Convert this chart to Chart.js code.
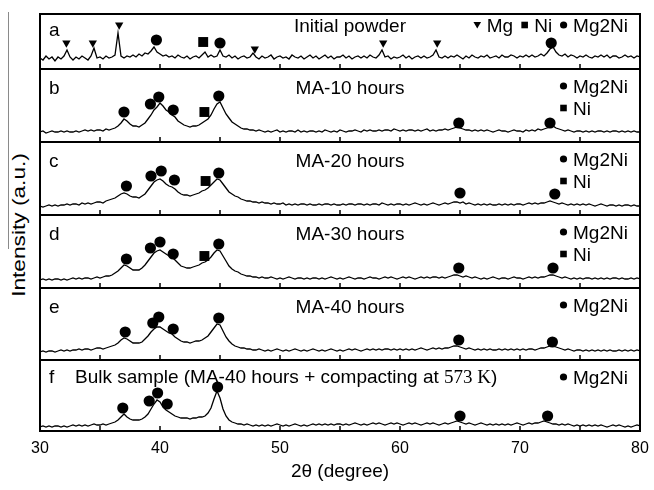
<!DOCTYPE html>
<html>
<head>
<meta charset="utf-8">
<script src="https://cdn.jsdelivr.net/npm/chart.js@4"></script>
<style>
body { margin: 0; background: #fff; }
#wrap { position: relative; width: 654px; height: 490px; overflow: hidden; background: #fff; }
.panel { position: absolute; left: 0; width: 654px; }
#ylab { position: absolute; left: 19px; top: 225px; transform: translate(-50%, -50%) rotate(-90deg) scaleX(1.26);
        font: 18px "Liberation Sans", Arial, sans-serif; white-space: nowrap; color: #000; }
#bar { position: absolute; left: 8px; top: 12px; width: 1px; height: 237px; background: #8a8a8a; }
</style>
</head>
<body>
<div id="wrap">
  <div id="bar"></div>
  <div id="ylab">Intensity (a.u.)</div>
  <div class="panel" style="top:13px;height:56px"><canvas id="pa"></canvas></div>
  <div class="panel" style="top:69px;height:73px"><canvas id="pb"></canvas></div>
  <div class="panel" style="top:142px;height:73px"><canvas id="pc"></canvas></div>
  <div class="panel" style="top:215px;height:73px"><canvas id="pd"></canvas></div>
  <div class="panel" style="top:288px;height:72px"><canvas id="pe"></canvas></div>
  <div class="panel" style="top:360px;height:130px"><canvas id="pf"></canvas></div>
</div>
<script>
// 2theta grid (degree), 0.25 step
const twoTheta = [
  30,30.25,30.5,30.75,31,31.25,31.5,31.75,32,32.25,32.5,32.75,33,33.25,33.5,33.75,34,34.25,34.5,34.75,
  35,35.25,35.5,35.75,36,36.25,36.5,36.75,37,37.25,37.5,37.75,38,38.25,38.5,38.75,39,39.25,39.5,39.75,
  40,40.25,40.5,40.75,41,41.25,41.5,41.75,42,42.25,42.5,42.75,43,43.25,43.5,43.75,44,44.25,44.5,44.75,
  45,45.25,45.5,45.75,46,46.25,46.5,46.75,47,47.25,47.5,47.75,48,48.25,48.5,48.75,49,49.25,49.5,49.75,
  50,50.25,50.5,50.75,51,51.25,51.5,51.75,52,52.25,52.5,52.75,53,53.25,53.5,53.75,54,54.25,54.5,54.75,
  55,55.25,55.5,55.75,56,56.25,56.5,56.75,57,57.25,57.5,57.75,58,58.25,58.5,58.75,59,59.25,59.5,59.75,
  60,60.25,60.5,60.75,61,61.25,61.5,61.75,62,62.25,62.5,62.75,63,63.25,63.5,63.75,64,64.25,64.5,64.75,
  65,65.25,65.5,65.75,66,66.25,66.5,66.75,67,67.25,67.5,67.75,68,68.25,68.5,68.75,69,69.25,69.5,69.75,
  70,70.25,70.5,70.75,71,71.25,71.5,71.75,72,72.25,72.5,72.75,73,73.25,73.5,73.75,74,74.25,74.5,74.75,
  75,75.25,75.5,75.75,76,76.25,76.5,76.75,77,77.25,77.5,77.75,78,78.25,78.5,78.75,79,79.25,79.5,79.75,
  80
];
const tickDegrees = [30, 35, 40, 45, 50, 55, 60, 65, 70, 75, 80];

// intensities (a.u.)
const initialPowder = [
  11,9,13,10, 12,8,12,10, 13,19,12,9, 12,10,13,11, 9,13,21,11,
  12,10,13,11, 12,14,36,13, 11,13,12,14, 12,15,13,16, 15,18,22,17,
  15,13,14,12, 13,11,14,12, 11,13,10,12, 13,11,14,17, 12,14,12,13,
  19,13,12,14, 11,13,10,12, 13,11,12,16, 12,10,13,11, 12,14,10,12,
  13,11,12,10, 14,12,11,13, 10,12,14,11, 13,10,12,14, 11,13,10,12,
  12,14,11,13, 10,12,13,11, 13,11,14,12, 11,14,19,12, 13,10,12,11,
  12,14,11,13, 10,12,13,11, 13,11,12,14, 19,12,11,13, 11,13,12,14,
  12,10,13,11, 14,12,11,13, 12,14,11,12, 13,11,14,12, 12,14,13,11,
  13,12,14,12, 14,12,13,15, 13,16,20,22, 17,14,13,15, 12,14,13,11,
  13,12,14,12, 11,13,12,14, 12,14,11,13, 13,11,12,14, 12,13,11,13,
  12
];
const ma10 = [
  10,11,9,10, 11,10,10,11, 10,11,10,10, 11,10,11,12, 11,12,11,12,
  12,11,13,12, 13,14,16,19, 23,21,18,16, 16,15,17,19, 23,27,32,35,
  39,36,32,30, 27,25,21,19, 17,16,15,16, 16,17,19,21, 23,27,33,38,
  40,34,28,24, 20,18,16,14, 13,13,12,12, 11,12,11,10, 11,10,11,12,
  10,11,10,11, 11,10,12,10, 11,10,11,11, 10,11,10,12, 11,10,11,10,
  12,11,10,11, 11,12,11,10, 12,11,12,11, 11,12,11,12, 12,11,13,12,
  11,12,11,12, 12,11,12,11, 12,13,11,12, 11,12,12,13, 12,13,14,15,
  14,13,12,12, 11,12,11,12, 11,12,11,10, 11,12,11,11, 10,11,12,11,
  11,10,12,11, 12,11,13,12, 13,14,15,16, 14,13,12,11, 12,11,10,11,
  11,10,11,10, 11,10,11,11, 10,11,10,11, 11,10,11,10, 11,10,11,10,
  10
];
const ma20 = [
  9,8,9,10, 9,10,9,10, 10,11,10,11, 11,10,12,11, 12,11,12,13,
  13,12,14,15, 16,17,19,21, 22,21,19,18, 18,17,19,21, 25,29,33,35,
  36,34,31,29, 28,26,23,21, 20,20,19,20, 21,22,24,25, 27,30,33,36,
  35,31,27,23, 21,19,18,16, 15,14,14,13, 13,12,13,12, 12,11,12,11,
  11,12,10,11, 10,11,10,11, 11,10,11,10, 10,11,10,11, 11,10,11,10,
  10,11,10,11, 11,10,11,11, 10,11,10,11, 11,10,12,11, 10,11,10,11,
  11,10,11,10, 11,12,11,10, 11,10,11,12, 11,10,11,12, 11,12,13,13,
  12,13,11,12, 11,10,11,10, 11,10,11,10, 10,11,10,11, 10,11,10,11,
  11,10,11,12, 11,12,11,12, 12,13,14,13, 12,11,12,11, 10,11,10,11,
  10,11,10,11, 10,9,10,11, 10,9,10,10, 9,10,9,10, 10,9,10,9,
  9
];
const ma30 = [
  8,9,8,9, 8,9,9,8, 9,8,9,10, 9,10,9,10, 10,9,10,11,
  10,11,12,12, 13,15,17,20, 23,22,20,18, 18,18,20,23, 27,31,35,37,
  38,36,34,32, 31,28,25,22, 21,20,20,21, 22,23,25,26, 28,31,35,38,
  37,32,27,22, 19,17,16,14, 13,12,12,11, 11,10,11,10, 10,11,10,9,
  10,9,10,11, 10,9,10,10, 9,10,9,10, 10,9,10,9, 10,11,10,9,
  10,9,10,11, 10,9,10,10, 9,10,11,10, 10,9,10,11, 10,11,10,9,
  10,11,10,11, 10,9,10,11, 10,11,10,11, 11,10,11,10, 11,12,13,13,
  12,11,12,11, 10,11,10,9, 10,9,10,11, 10,9,10,10, 9,10,11,10,
  10,9,10,11, 10,11,10,11, 11,12,13,13, 12,11,10,11, 10,9,10,9,
  10,9,10,10, 9,10,9,10, 9,10,9,10, 10,9,10,9, 9,10,9,10,
  9
];
const ma40 = [
  8,9,8,9, 9,8,9,10, 9,10,9,10, 10,11,10,11, 11,10,11,12,
  12,11,12,13, 14,15,17,20, 22,21,19,17, 17,17,18,21, 24,28,31,33,
  33,31,29,27, 26,23,21,19, 18,18,17,18, 19,19,20,22, 24,28,32,36,
  35,29,23,19, 16,14,13,12, 12,11,11,10, 10,11,10,9, 10,9,10,11,
  10,9,10,9, 10,11,10,9, 10,9,10,11, 10,9,10,9, 10,11,10,9,
  10,9,10,11, 10,11,10,9, 10,11,10,11, 10,11,10,11, 11,10,11,10,
  11,10,11,10, 11,10,11,12, 11,10,11,12, 11,12,11,12, 12,13,14,14,
  13,12,11,12, 11,10,11,10, 11,10,11,10, 10,11,10,11, 10,11,10,11,
  10,11,10,11, 11,10,11,12, 12,13,14,14, 13,12,11,10, 11,10,9,10,
  10,9,10,9, 10,9,10,9, 10,9,10,9, 9,10,9,10, 9,10,9,10,
  9
];
const bulk = [
  4,5,4,5, 4,5,5,4, 5,4,5,6, 5,6,5,6, 5,6,7,6,
  6,7,6,7, 8,9,11,14, 17,14,12,11, 11,11,12,14, 17,22,27,31,
  29,24,21,19, 17,15,14,13, 13,13,12,13, 13,14,14,15, 18,23,32,40,
  33,22,15,11, 9,8,7,7, 6,7,6,5, 6,5,6,5, 6,5,6,7,
  6,5,6,5, 6,7,6,5, 6,5,6,7, 6,7,6,7, 6,7,6,7,
  7,6,7,6, 7,8,7,6, 7,6,7,8, 7,8,7,6, 7,8,7,8,
  7,6,7,8, 7,8,7,6, 7,8,7,8, 7,6,7,8, 7,8,9,10,
  9,8,7,8, 7,6,7,8, 7,6,7,6, 7,6,7,6, 7,6,7,8,
  7,6,7,8, 7,8,8,9, 10,9,8,7, 7,6,7,6, 7,6,5,6,
  5,6,5,6, 5,6,5,6, 5,4,5,6, 5,6,5,4, 5,4,5,6,
  5
];

// peak markers: 2theta and marker height (a.u.)
const markA_Mg = [{x:32.2,y:26},{x:34.4,y:26},{x:36.6,y:44},{x:47.9,y:20},{x:58.6,y:26},{x:63.1,y:26}];
const markA_Ni = [{x:43.6,y:27}];
const markA_Mg2Ni = [{x:39.7,y:29},{x:45.0,y:26},{x:72.6,y:26}];
const markB_Mg2Ni = [{x:37.0,y:30},{x:39.2,y:38},{x:39.9,y:45},{x:41.1,y:32},{x:44.9,y:46},{x:64.9,y:19},{x:72.5,y:19}];
const markB_Ni = [{x:43.7,y:30}];
const markC_Mg2Ni = [{x:37.2,y:29},{x:39.25,y:39},{x:40.1,y:44},{x:41.2,y:35},{x:44.9,y:42},{x:65.0,y:22},{x:72.9,y:21}];
const markC_Ni = [{x:43.8,y:34}];
const markD_Mg2Ni = [{x:37.2,y:29},{x:39.2,y:40},{x:40.0,y:46},{x:41.1,y:34},{x:44.9,y:44},{x:64.9,y:20},{x:72.75,y:20}];
const markD_Ni = [{x:43.7,y:32}];
const markE_Mg2Ni = [{x:37.1,y:28},{x:39.4,y:37},{x:39.9,y:43},{x:41.1,y:31},{x:44.9,y:42},{x:64.9,y:20},{x:72.7,y:18}];
const markF_Mg2Ni = [{x:36.9,y:23},{x:39.1,y:30},{x:39.8,y:38},{x:40.6,y:27},{x:44.8,y:44},{x:65.0,y:15},{x:72.3,y:15}];

const panelRange = [55, 73, 73, 73, 72, 71];

Chart.defaults.font.family = '"Liberation Sans", Arial, sans-serif';
Chart.defaults.color = '#000';
const SANS = '"Liberation Sans", Arial, sans-serif';
const SERIF = '"Liberation Serif", "Times New Roman", serif';

function glyph(ctx, kind, cx, cy) {
    ctx.beginPath();
    if (kind === 'dot') {
        ctx.arc(cx, cy, 3.6, 0, Math.PI * 2);
    } else if (kind === 'sq') {
        ctx.rect(cx - 3.3, cy - 3.3, 6.6, 6.6);
    } else {
        ctx.moveTo(cx - 3.8, cy - 3);
        ctx.lineTo(cx + 3.8, cy - 3);
        ctx.lineTo(cx, cy + 3.5);
        ctx.closePath();
    }
    ctx.fill();
}

const panelDeco = {
    id: 'panelDeco',
    afterDatasetsDraw(chart, args, o) {
        const { ctx, chartArea: a, scales: { x } } = chart;
        ctx.save();
        ctx.strokeStyle = '#000';
        ctx.fillStyle = '#000';
        // inward ticks
        ctx.lineWidth = 1.5;
        ctx.beginPath();
        tickDegrees.forEach(v => {
            const px = x.getPixelForValue(v);
            ctx.moveTo(px, a.bottom);
            ctx.lineTo(px, a.bottom - 5);
        });
        ctx.stroke();
        // frame
        ctx.lineWidth = 2;
        ctx.strokeRect(a.left, a.top, a.right - a.left, a.bottom - a.top);

        ctx.font = '19px ' + SANS;
        ctx.textBaseline = 'alphabetic';
        ctx.textAlign = 'left';
        ctx.fillText(o.letter, a.left + 9, a.top + o.letterY);

        if (o.bulk) {
            let tx = a.left + 35;
            const ty = a.top + o.titleY;
            const parts = [['Bulk sample (MA-40 hours + compacting at ', SANS], ['573 K', SERIF], [')', SANS]];
            parts.forEach(p => {
                ctx.font = '19px ' + p[1];
                ctx.fillText(p[0], tx, ty);
                tx += ctx.measureText(p[0]).width;
            });
            ctx.font = '19px ' + SANS;
        } else {
            ctx.textAlign = 'center';
            ctx.fillText(o.title, a.left + 310, a.top + o.titleY);
            ctx.textAlign = 'left';
        }

        // legend
        if (o.row) {
            let right = a.right - 12;
            const by = a.top + o.legendY;
            for (let i = o.row.length - 1; i >= 0; i--) {
                const [kind, label] = o.row[i];
                const w = ctx.measureText(label).width;
                ctx.fillText(label, right - w, by);
                const cx = right - w - 9.5;
                glyph(ctx, kind, cx, by - 7);
                right = cx - 11.5;
            }
        } else {
            o.rows.forEach((r, i) => {
                const by = a.top + o.legendY + i * 22;
                glyph(ctx, r[0], a.right - 76.5, by - 7);
                ctx.fillText(r[1], a.right - 67, by);
            });
        }
        ctx.restore();
    }
};

function markerSet(data, style, radius, rotation) {
    return {
        data: data,
        showLine: false,
        pointStyle: style,
        pointRadius: radius,
        pointRotation: rotation || 0,
        pointBackgroundColor: '#000',
        pointBorderWidth: 0,
        borderWidth: 0
    };
}

function makePanel(id, spectrum, marks, range, deco, bottom) {
    const datasets = [{
        data: spectrum,
        borderColor: '#000',
        borderWidth: 1.3,
        pointRadius: 0,
        tension: 0
    }];
    if (marks.mg) datasets.push(markerSet(marks.mg, 'triangle', 4.8, 180));
    if (marks.ni) datasets.push(markerSet(marks.ni, 'rect', 7));
    if (marks.mg2ni) datasets.push(markerSet(marks.mg2ni, 'circle', 5.6));

    const xScale = {
        type: 'linear', min: 30, max: 80, display: bottom,
        grid: { display: false, drawTicks: false },
        border: { display: false },
        ticks: { stepSize: 10, color: '#000', padding: 8, maxRotation: 0, font: { size: 16 } }
    };
    if (bottom) {
        xScale.title = { display: true, text: '2θ (degree)', color: '#000', font: { size: 19 }, padding: { top: 0, bottom: 7 } };
        xScale.afterFit = s => {
            s.height = 59;
            s.paddingLeft = 0;
            s.paddingRight = 0;
        };
    }

    return new Chart(document.getElementById(id), {
        type: 'line',
        data: { labels: twoTheta, datasets: datasets },
        options: {
            responsive: true,
            maintainAspectRatio: false,
            animation: false,
            layout: { autoPadding: false, padding: { left: 40, right: 14, top: id === 'pa' ? 1 : 0, bottom: 0 } },
            scales: {
                x: xScale,
                y: { display: false, min: 0, max: range }
            },
            plugins: { legend: { display: false }, tooltip: { enabled: false }, panelDeco: deco }
        },
        plugins: [panelDeco]
    });
}

const rowsNiMg2Ni = [['dot', 'Mg2Ni'], ['sq', 'Ni']];
const rowsMg2Ni = [['dot', 'Mg2Ni']];

makePanel('pa', initialPowder, { mg: markA_Mg, ni: markA_Ni, mg2ni: markA_Mg2Ni }, panelRange[0],
    { letter: 'a', letterY: 22, title: 'Initial powder', titleY: 18, legendY: 18,
      row: [['tri', 'Mg'], ['sq', 'Ni'], ['dot', 'Mg2Ni']] }, false);
makePanel('pb', ma10, { ni: markB_Ni, mg2ni: markB_Mg2Ni }, panelRange[1],
    { letter: 'b', letterY: 25, title: 'MA-10 hours', titleY: 25, legendY: 24, rows: rowsNiMg2Ni }, false);
makePanel('pc', ma20, { ni: markC_Ni, mg2ni: markC_Mg2Ni }, panelRange[2],
    { letter: 'c', letterY: 25, title: 'MA-20 hours', titleY: 25, legendY: 24, rows: rowsNiMg2Ni }, false);
makePanel('pd', ma30, { ni: markD_Ni, mg2ni: markD_Mg2Ni }, panelRange[3],
    { letter: 'd', letterY: 25, title: 'MA-30 hours', titleY: 25, legendY: 24, rows: rowsNiMg2Ni }, false);
makePanel('pe', ma40, { mg2ni: markE_Mg2Ni }, panelRange[4],
    { letter: 'e', letterY: 25, title: 'MA-40 hours', titleY: 25, legendY: 24, rows: rowsMg2Ni }, false);
makePanel('pf', bulk, { mg2ni: markF_Mg2Ni }, panelRange[5],
    { letter: 'f', letterY: 23, bulk: true, titleY: 23, legendY: 24, rows: rowsMg2Ni }, true);
</script>
</body>
</html>
